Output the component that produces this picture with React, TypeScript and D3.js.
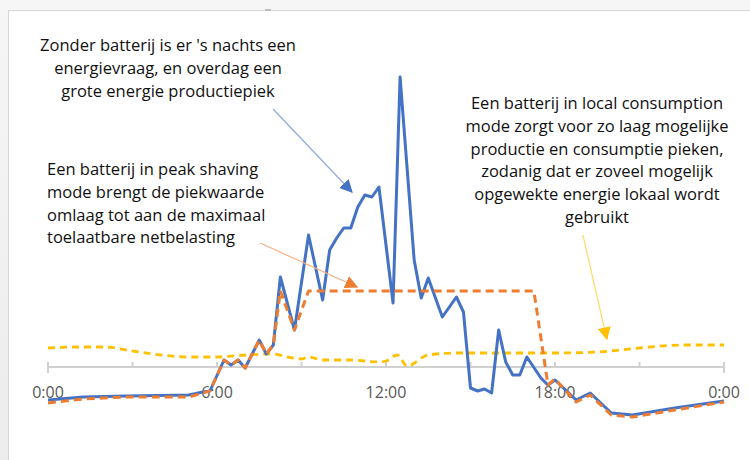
import React from "react";
import * as d3 from "d3";

// hours of the day and net power (arbitrary units, + = production)
const blueHours = [0, 1.25, 2.75, 5, 5.5, 5.75, 6.25, 6.5, 6.75, 7, 7.5, 7.75, 8, 8.25, 8.75, 9.25, 9.75, 10, 10.25, 10.5, 10.75, 11, 11.25, 11.5, 11.75, 12.25, 12.5, 13, 13.25, 13.5, 14, 14.5, 14.75, 15, 15.25, 15.5, 15.75, 16, 16.25, 16.5, 16.75, 17, 17.5, 17.75, 18, 18.75, 19.25, 20, 20.75, 22.25, 24];
const blueValues = [-3.3, -3.0, -2.9, -2.8, -2.5, -2.4, 0.7, 0.2, 0.7, -0.1, 2.7, 1.3, 2.2, 9.0, 3.7, 13.2, 6.7, 11.7, 12.9, 13.9, 13.9, 16.0, 17.2, 17.0, 18.0, 6.4, 29.0, 10.7, 6.9, 8.9, 5.0, 7.0, 5.5, -2.1, -2.4, -2.2, -2.6, 3.7, 0.5, -0.8, -0.8, 1.0, -1.1, -1.8, -1.3, -3.3, -2.6, -4.6, -4.8, -4.1, -3.4];

const peakHours = [0, 1.25, 2.75, 5, 5.5, 5.75, 6.25, 6.5, 6.75, 7, 7.5, 7.75, 8, 8.25, 8.75, 9.25, 17.25, 17.75, 18, 18.75, 19.25, 20, 20.75, 22.25, 24];
const peakValues = [-3.6, -3.2, -3.0, -3.0, -2.6, -2.4, 0.7, 0.2, 0.7, -0.1, 2.7, 1.3, 2.2, 7.6, 3.7, 7.6, 7.6, -1.8, -1.2, -3.5, -2.8, -4.8, -5.0, -4.3, -3.5];

const localHours = [0, 1, 2, 3, 4, 5, 6, 7, 8, 8.5, 9, 9.25, 9.75, 10.75, 11.75, 12, 12.4, 12.75, 13.5, 14.5, 16, 18, 19.5, 21, 22.5, 24];
const localValues = [1.9, 2.0, 2.0, 1.6, 1.2, 1.0, 1.0, 1.2, 1.3, 1.0, 0.8, 1.0, 0.7, 0.7, 0.5, 0.6, 1.2, 0.1, 1.2, 1.4, 1.4, 1.4, 1.5, 1.9, 2.2, 2.2];

const tickHours = [0, 3, 6, 9, 12, 15, 18, 21, 24];
const labelHours = [0, 6, 12, 18, 24];
const labelTexts = ["0:00", "6:00", "12:00", "18:00", "0:00"];

const noteNoBattery = ["Zonder batterij is er 's nachts een", "energievraag, en overdag een", "grote energie productiepiek"];
const notePeak = ["Een batterij in peak shaving", "mode brengt de piekwaarde", "omlaag tot aan de maximaal", "toelaatbare netbelasting"];
const noteLocal = ["Een batterij in local consumption", "mode zorgt voor zo laag mogelijke", "productie en consumptie pieken,", "zodanig dat er zoveel mogelijk", "opgewekte energie lokaal wordt", "gebruikt"];

const W = 750;
const H = 460;

export default function App() {
  const x = d3.scaleLinear().domain([0, 24]).range([48, 724]);
  const y = d3.scaleLinear().domain([-5, 30]).range([417, 67]);
  const y0 = y(0);

  const line = d3
    .line<[number, number]>()
    .x((d) => x(d[0]))
    .y((d) => y(d[1]));
  const smooth = d3
    .line<[number, number]>()
    .x((d) => x(d[0]))
    .y((d) => y(d[1]))
    .curve(d3.curveMonotoneX);

  const blue = blueHours.map((h, i) => [h, blueValues[i]] as [number, number]);
  const peak = peakHours.map((h, i) => [h, peakValues[i]] as [number, number]);
  const local = localHours.map((h, i) => [h, localValues[i]] as [number, number]);

  // arrows: from / to in [hour, value]
  const arrows = [
    { from: [7.99, 25.8], to: [10.79, 17.5], line: "#8faadc", head: "#4472c4", id: "hb" },
    { from: [7.53, 12.4], to: [10.97, 8.0], line: "#f4b183", head: "#ed7d31", id: "ho" },
    { from: [18.99, 13.2], to: [19.84, 2.8], line: "#ffd966", head: "#ffc000", id: "hy" },
  ];

  const font = "'Open Sans', 'Noto Sans', sans-serif";
  const noteSize = 16.5;
  const lh = 22.8;

  return (
    <svg width={W} height={H} style={{ position: "absolute", left: 0, top: 0 }}>
      <defs>
        <linearGradient id="bg" x1="0" y1="0" x2="0" y2="1">
          <stop offset="0" stopColor="#f6f6f6" />
          <stop offset="1" stopColor="#ececec" />
        </linearGradient>
        {arrows.map((a) => (
          <marker key={a.id} id={a.id} viewBox="0 0 10 10" refX="9" refY="5" markerWidth="13" markerHeight="13" markerUnits="userSpaceOnUse" orient="auto">
            <path d="M0,0 L10,5 L0,10 z" fill={a.head} />
          </marker>
        ))}
      </defs>
      <rect width={W} height={H} fill="url(#bg)" />
      <rect x={8.5} y={10.5} width={W} height={H} fill="#fff" stroke="#d6d6d6" />
      <rect x={265} y={9} width={6} height={2} fill="#bdbdbd" />

      {/* axis */}
      <line x1={x(0)} x2={x(24)} y1={y0} y2={y0} stroke="#d0d0d0" strokeWidth={2} />
      {tickHours.map((h) => {
        const end = h === 0 || h === 24;
        return <line key={h} x1={x(h)} x2={x(h)} y1={y0 - 5} y2={end ? y0 + 6 : y0} stroke="#d0d0d0" strokeWidth={2} />;
      })}
      {labelHours.map((h, i) => (
        <text key={i} x={x(h)} y={y0 + 31} textAnchor="middle" fontFamily={font} fontSize={16} fill="#595959">
          {labelTexts[i]}
        </text>
      ))}

      {/* series */}
      <path d={smooth(local) ?? ""} fill="none" stroke="#ffc000" strokeWidth={2.8} strokeDasharray="7 5" />
      <path d={line(blue) ?? ""} fill="none" stroke="#4472c4" strokeWidth={3} strokeLinejoin="round" />
      <path d={line(peak) ?? ""} fill="none" stroke="#ed7d31" strokeWidth={3} strokeDasharray="8 5" strokeLinejoin="round" />

      {/* annotations */}
      {arrows.map((a) => (
        <line key={a.id} x1={x(a.from[0])} y1={y(a.from[1])} x2={x(a.to[0])} y2={y(a.to[1])} stroke={a.line} strokeWidth={1.2} markerEnd={`url(#${a.id})`} />
      ))}
      <text fontFamily={font} fontSize={noteSize} fill="#111" textAnchor="middle">
        {noteNoBattery.map((t, i) => (
          <tspan key={i} x={168} y={51 + i * lh}>{t}</tspan>
        ))}
      </text>
      <text fontFamily={font} fontSize={noteSize} fill="#111">
        {notePeak.map((t, i) => (
          <tspan key={i} x={47} y={175 + i * lh}>{t}</tspan>
        ))}
      </text>
      <text fontFamily={font} fontSize={noteSize} fill="#111" textAnchor="middle">
        {noteLocal.map((t, i) => (
          <tspan key={i} x={597} y={109 + i * lh}>{t}</tspan>
        ))}
      </text>
    </svg>
  );
}
